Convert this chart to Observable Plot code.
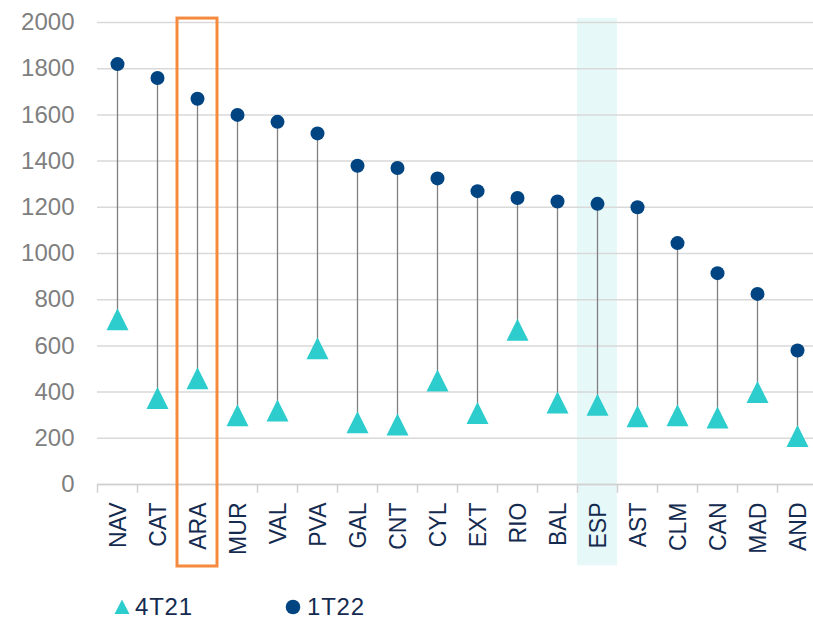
<!DOCTYPE html>
<html>
<head>
<meta charset="utf-8">
<script src="https://cdn.jsdelivr.net/npm/d3@7"></script>
<script src="https://cdn.jsdelivr.net/npm/@observablehq/plot@0.6"></script>
<style>
  html, body { margin: 0; padding: 0; background: #fff; overflow: hidden; }
  body { font-family: "Liberation Sans", Arial, sans-serif; width: 813px; height: 620px; position: relative; }
  #chart svg { max-width: none !important; }
  #legend { position: absolute; left: 0; top: 594px; height: 26px; width: 813px; font-size: 24px; letter-spacing: 0.8px; color: #142b4f; }
  #legend .item { position: absolute; top: 0; display: flex; align-items: center; height: 26px; }
  #legend svg { display: block; }
</style>
</head>
<body>
<div id="chart"></div>
<div id="legend"></div>
<script>
const categories = ["NAV","CAT","ARA","MUR","VAL","PVA","GAL","CNT","CYL","EXT","RIO","BAL","ESP","AST","CLM","CAN","MAD","AND"];
const s1T22 = [1820,1760,1670,1600,1570,1520,1380,1370,1325,1270,1240,1225,1215,1200,1045,915,825,580];
const s4T21 = [715,375,460,300,320,590,270,260,450,310,670,355,345,295,300,290,400,210];
const yTicks = [0,200,400,600,800,1000,1200,1400,1600,1800,2000];
const seriesNames = ["4T21","1T22"];
const highlighted = "ESP";
const outlined = "ARA";

const colDot = "#004481";
const colTri = "#2dcccd";
const colText = "#142b4f";

const data = categories.map((c,i) => ({cat: c, t1: s1T22[i], t4: s4T21[i]}));

const W = 817, H = 580, ML = 97, MR = 0, MT = 22, MB = 96;
const bw = (W - ML - MR) / categories.length;

const triangle = {
  draw(ctx, size) {
    const r = Math.sqrt(size / Math.PI);
    ctx.moveTo(0, -r);
    ctx.lineTo(r, r);
    ctx.lineTo(-r, r);
    ctx.closePath();
  }
};

const chart = Plot.plot({
  width: W,
  height: H,
  marginLeft: ML,
  marginRight: MR,
  marginTop: MT,
  marginBottom: MB,
  style: {fontFamily: "'Liberation Sans', Arial, sans-serif", background: "transparent", overflow: "visible", maxWidth: "none"},
  x: {domain: categories, type: "band", padding: 0, axis: null},
  y: {domain: [0, 2000], axis: null},
  marks: [
    Plot.barY([highlighted], {x: d => d, y1: -352, y2: 2017, fill: "#e7f8f9"}),
    Plot.gridY(yTicks, {stroke: "#d9d9d9", strokeOpacity: 1, strokeWidth: 1.5}),
    Plot.ruleY([0], {stroke: "#d0d0d0", strokeWidth: 1.5}),
    Plot.axisY(yTicks, {tickSize: 0, tickPadding: 23, fontSize: 24, fill: "#7f7f7f", tickFormat: d => String(d), style: {letterSpacing: "0.6px"}}),
    Plot.ruleX(categories, {x: d => d, y1: 0, y2: -38, dx: -bw / 2, stroke: "#d0d0d0", strokeWidth: 1.5}),
    Plot.ruleX([categories[categories.length - 1]], {x: d => d, y1: 0, y2: -38, dx: bw / 2, stroke: "#d0d0d0", strokeWidth: 1.5}),
    Plot.text(categories, {x: d => d, y: 0, text: d => d, rotate: -90, textAnchor: "end", dy: 18, dx: 1, fontSize: 23, fill: colText}),
    Plot.ruleX(data, {x: "cat", y1: "t4", y2: "t1", stroke: "#808080", strokeWidth: 1.3}),
    Plot.dot(data, {x: "cat", y: "t1", r: 7, fill: colDot, stroke: "none"}),
    Plot.dot(data, {x: "cat", y: "t4", r: 11, symbol: triangle, fill: colTri, stroke: "none"}),
    Plot.barY([outlined], {x: d => d, y1: -355, y2: 2017, fill: "none", stroke: "#f5893d", strokeWidth: 3})
  ]
});
document.getElementById("chart").appendChild(chart);

// legend
const legend = document.getElementById("legend");
const items = [
  {name: seriesNames[0], left: 114, shape: "tri"},
  {name: seriesNames[1], left: 285, shape: "dot"}
];
for (const it of items) {
  const div = document.createElement("div");
  div.className = "item";
  div.style.left = it.left + "px";
  const svg = d3.create("svg").attr("width", 18).attr("height", 18);
  if (it.shape === "tri") {
    svg.append("path").attr("d", "M8,1.5L15.5,16L0.5,16Z").attr("fill", colTri);
  } else {
    svg.append("circle").attr("cx", 8).attr("cy", 9).attr("r", 7.3).attr("fill", colDot);
  }
  div.appendChild(svg.node());
  const span = document.createElement("span");
  span.textContent = it.name;
  span.style.marginLeft = it.shape === "tri" ? "3px" : "4px";
  div.appendChild(span);
  legend.appendChild(div);
}
</script>
</body>
</html>
